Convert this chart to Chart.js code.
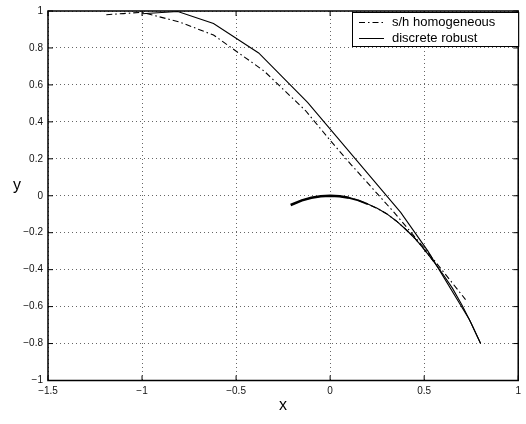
<!DOCTYPE html>
<html>
<head>
<meta charset="utf-8">
<script src="https://cdn.jsdelivr.net/npm/chart.js@4.4.0/dist/chart.umd.min.js"></script>
<style>
  html, body { margin: 0; padding: 0; background: #fff; }
</style>
</head>
<body>
<canvas id="myChart" width="526" height="424"></canvas>
<script>
// ticks
var xTicks = [-1.5, -1, -0.5, 0, 0.5, 1];
var yTicks = [-1, -0.8, -0.6, -0.4, -0.2, 0, 0.2, 0.4, 0.6, 0.8, 1];

// s/h homogeneous (dash-dot), null = break in the line
var shhX = [-1.19, -1.1, -1.0, -0.8, -0.62, -0.35, -0.13, 0.0, 0.11, 0.34, 0.525, 0.72,
  null, -0.2, -0.15, -0.1, -0.05, 0, 0.05, 0.1, 0.15, 0.2, 0.25, 0.3, 0.35, 0.4, 0.45, 0.5, 0.55];
var shhY = [0.98, 0.986, 0.993, 0.94, 0.87, 0.674, 0.46, 0.30, 0.17, -0.09, -0.313, -0.562,
  null, -0.047, -0.025, -0.011, -0.003, 0, -0.003, -0.011, -0.025, -0.045, -0.068, -0.097, -0.135, -0.18, -0.23, -0.29, -0.355];

// discrete robust (solid)
var robustX = [-1.0, -0.81, -0.62, -0.38, -0.12, 0.375, 0.52, 0.74, 0.8,
  null, -0.21, -0.15, -0.1, -0.05, 0, 0.05, 0.1, 0.15, 0.2, 0.25, 0.3, 0.35, 0.4, 0.45, 0.5, 0.55, 0.6, 0.65, 0.7, 0.75, 0.8];
var robustY = [0.985, 0.997, 0.932, 0.773, 0.505, -0.09, -0.30, -0.67, -0.8,
  null, -0.05, -0.025, -0.011, -0.003, 0, -0.003, -0.011, -0.025, -0.045, -0.068, -0.097, -0.135, -0.18, -0.23, -0.29, -0.355, -0.425, -0.5, -0.59, -0.69, -0.8];

var labels = ["s/h homogeneous", "discrete robust"];

function toPoints(xs, ys) {
  return xs.map(function (x, i) {
    return x === null ? { x: NaN, y: NaN } : { x: x, y: ys[i] };
  });
}

function fmt(v) {
  var s = String(Math.round(v * 10) / 10);
  return s.replace("-", "\u2212");
}

var font = "'Liberation Sans', Arial, Helvetica, sans-serif";

// border, inward ticks, axis titles and legend in matlab style
var matlabFrame = {
  id: "matlabFrame",
  afterDraw: function (chart) {
    var c = chart.ctx, a = chart.chartArea;
    var xs = chart.scales.x, ys = chart.scales.y;
    c.save();
    c.strokeStyle = "#000";
    c.lineWidth = 1.5;
    c.strokeRect(a.left, a.top, a.right - a.left, a.bottom - a.top);
    c.lineWidth = 1;
    c.beginPath();
    xTicks.forEach(function (t) {
      var px = xs.getPixelForValue(t);
      c.moveTo(px, a.bottom); c.lineTo(px, a.bottom - 5);
      c.moveTo(px, a.top); c.lineTo(px, a.top + 5);
    });
    yTicks.forEach(function (t) {
      var py = ys.getPixelForValue(t);
      c.moveTo(a.left, py); c.lineTo(a.left + 5, py);
      c.moveTo(a.right, py); c.lineTo(a.right - 5, py);
    });
    c.stroke();

    // axis titles
    c.fillStyle = "#000";
    c.font = "16px " + font;
    c.textAlign = "center";
    c.textBaseline = "middle";
    c.fillText("x", (a.left + a.right) / 2, 406);
    c.fillText("y", 17, 186);

    // legend
    var bx = 352, by = 12, bw = a.right - bx, bh = 34;
    c.fillStyle = "#fff";
    c.fillRect(bx, by, bw, bh);
    c.strokeStyle = "#000";
    c.lineWidth = 1;
    c.strokeRect(bx + 0.5, by + 0.5, bw, bh);
    c.font = "13px " + font;
    c.textAlign = "left";
    c.fillStyle = "#000";
    chart.data.datasets.forEach(function (ds, i) {
      var ly = by + 10.5 + i * 16;
      c.beginPath();
      c.setLineDash(ds.borderDash || []);
      c.lineWidth = 1;
      c.moveTo(359, ly); c.lineTo(384, ly);
      c.stroke();
      c.setLineDash([]);
      c.fillText(ds.label, 392, ly);
    });
    c.restore();
  }
};

var ctx = document.getElementById("myChart").getContext("2d");
var chart = new Chart(ctx, {
  type: "scatter",
  data: {
    datasets: [
      {
        label: labels[0],
        data: toPoints(shhX, shhY),
        showLine: true,
        spanGaps: false,
        borderColor: "#000",
        borderWidth: 1.1,
        borderDash: [6, 3, 1.5, 3],
        pointRadius: 0,
        tension: 0
      },
      {
        label: labels[1],
        data: toPoints(robustX, robustY),
        showLine: true,
        spanGaps: false,
        borderColor: "#000",
        borderWidth: 1.1,
        pointRadius: 0,
        tension: 0,
        segment: {
          borderWidth: function (s) {
            var p = s.p0.parsed, q = s.p1.parsed;
            if (p.x >= -0.21 && q.x <= 0.1 && p.y <= 0 && q.y <= 0) return 2.6;
            if (p.x >= 0.1 && q.x <= 0.2 && p.y <= 0 && q.y <= 0) return 1.8;
            return 1.1;
          }
        }
      }
    ]
  },
  plugins: [matlabFrame],
  options: {
    responsive: false,
    animation: false,
    events: [],
    layout: { padding: { top: 5, right: 5, left: 0, bottom: 0 } },
    plugins: { legend: { display: false }, tooltip: { enabled: false } },
    scales: {
      x: {
        type: "linear",
        min: -1.5,
        max: 1,
        afterFit: function (s) { s.height = 43.5; },
        afterBuildTicks: function (s) { s.ticks = xTicks.map(function (v) { return { value: v }; }); },
        border: { display: false, dash: [1, 3] },
        grid: { color: "#666", drawTicks: false },
        ticks: {
          padding: 5,
          color: "#111",
          font: { family: font, size: 10 },
          callback: function (v) { return fmt(v); }
        }
      },
      y: {
        type: "linear",
        min: -1,
        max: 1,
        afterFit: function (s) { s.width = 48; },
        afterBuildTicks: function (s) { s.ticks = yTicks.map(function (v) { return { value: v }; }); },
        border: { display: false, dash: [1, 3] },
        grid: { color: "#666", drawTicks: false },
        ticks: {
          padding: 5,
          color: "#111",
          font: { family: font, size: 10 },
          callback: function (v) { return fmt(v); }
        }
      }
    }
  }
});
</script>
</body>
</html>
